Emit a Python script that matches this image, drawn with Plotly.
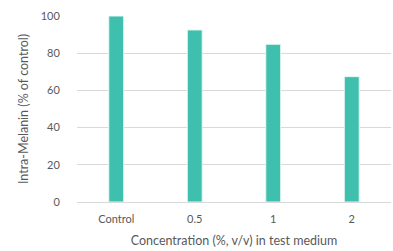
import plotly.graph_objects as go

categories = ["Control", "0.5", "1", "2"]
values = [100, 92.5, 84.8, 67.4]
y_ticks = [0, 20, 40, 60, 80, 100]

fig = go.Figure(go.Bar(
    x=categories, y=values,
    marker=dict(color="#3FBFAD", line=dict(color="#E6F7F3", width=1)),
))

font_family = "Lato, Open Sans, sans-serif"
fig.update_layout(
    width=393, height=251,
    margin=dict(l=77, r=2, t=16, b=49),
    paper_bgcolor="white", plot_bgcolor="white",
    bargap=0.81,
    showlegend=False,
    font=dict(family=font_family, size=11, color="#595959"),
)
fig.update_xaxes(
    type="category", automargin=False,
    showgrid=False, showline=True, linecolor="#D9D9D9", linewidth=1,
    ticks="outside", ticklen=7, tickcolor="rgba(0,0,0,0)",
    title=dict(text="Concentration (%, v/v) in test medium", font=dict(size=12.5), standoff=12),
)
fig.update_yaxes(
    range=[0, 100], tickvals=y_ticks, automargin=False,
    showgrid=True, gridcolor="#D9D9D9", gridwidth=1,
    zeroline=False, showline=False,
    ticks="outside", ticklen=14, tickcolor="rgba(0,0,0,0)",
    title=dict(text="Intra-Melanin (% of control)", font=dict(size=12.5), standoff=9),
)
fig.write_html("out.html", config={"displayModeBar": False},
               post_script="document.body.style.margin='0';document.body.style.padding='0';")
